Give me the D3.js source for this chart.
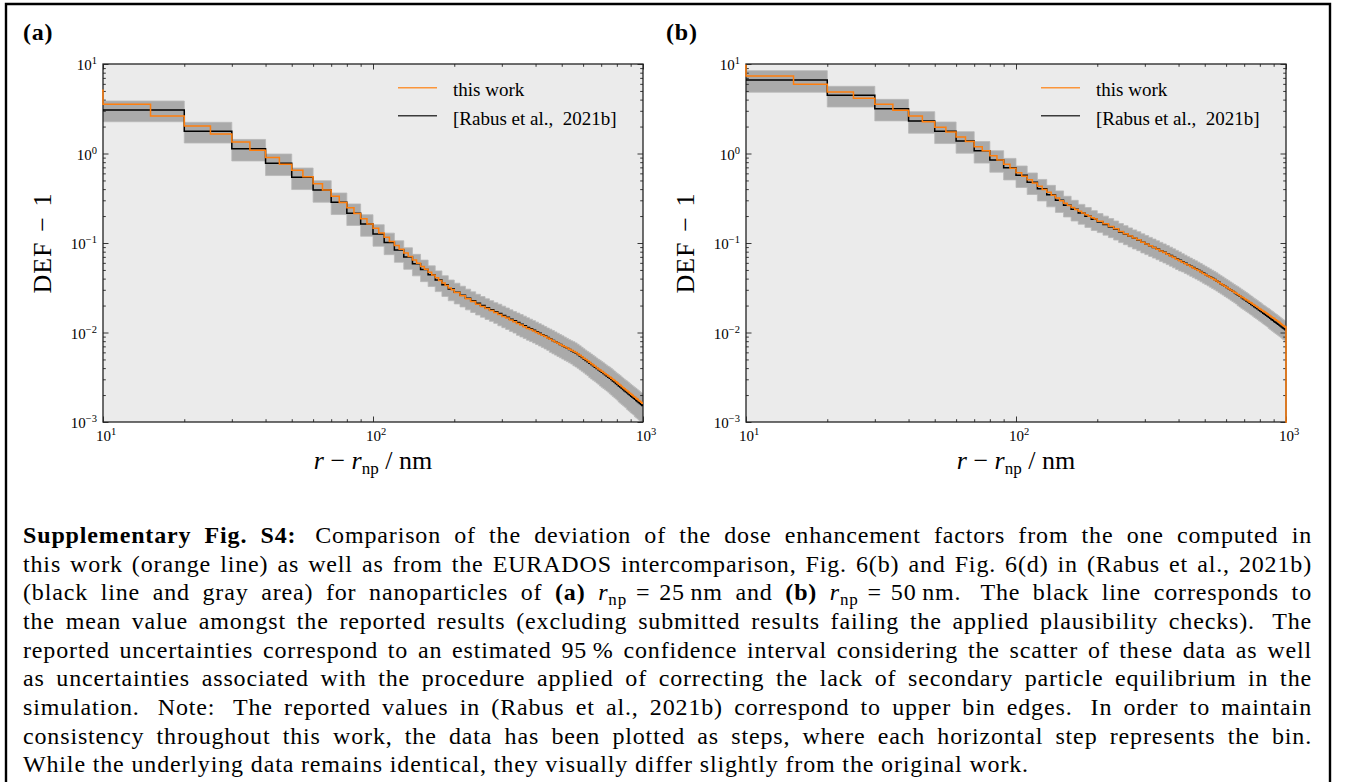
<!DOCTYPE html>
<html>
<head>
<meta charset="utf-8">
<script src="https://cdn.jsdelivr.net/npm/d3@7"></script>
<style>
  html, body { margin: 0; padding: 0; background: #fff; }
  svg { display: block; }
  text { font-family: "Liberation Serif", "Times New Roman", serif; fill: #000; }
</style>
</head>
<body>
<svg id="fig" width="1345" height="782"></svg>
<script>
// ---------------- data ----------------
// r - r_np axis range (nm) and DEF - 1 axis range
const xDomain = [10, 1000];
const yDomain = [1e-3, 10];
const xMajorTicks = [10, 100, 1000];
const yMajorTicks = [1e-3, 1e-2, 1e-1, 1, 10];
const minorMultipliers = [2, 3, 4, 5, 6, 7, 8, 9];

// EURADOS intercomparison (Rabus et al., 2021b): 10 nm bins from 10 nm to 1000 nm
const rabusBinStart = 10;
const rabusBinWidth = 10;

// this work: 5 nm bins from 5 nm to 200 nm, then 10 nm bins
const workFineStart = 5;
const workFineWidth = 5;
const workFineCount = 39;
const workCoarseWidth = 10;

// (a) r_np = 25 nm — mean of reported results
const rabusA = [
  3.06, 1.77, 1.13, 0.777, 0.542, 0.391, 0.285, 0.215, 0.163, 0.126,
  0.1015, 0.0834, 0.0696, 0.0588, 0.0507, 0.0441, 0.0387, 0.0342, 0.0306, 0.0282,
  0.0261, 0.0242, 0.0226, 0.0212, 0.0200, 0.0189, 0.0180, 0.0171, 0.0163, 0.0155,
  0.0148, 0.0141, 0.0135, 0.0129, 0.0124, 0.0119, 0.0114, 0.0110, 0.0106, 0.0102,
  0.00981, 0.00946, 0.00911, 0.00877, 0.00845, 0.00815, 0.00787, 0.00760, 0.00735, 0.00711,
  0.00688, 0.00666, 0.00645, 0.00626, 0.00607, 0.00589, 0.00568, 0.00546, 0.00526, 0.00506,
  0.00488, 0.00471, 0.00454, 0.00438, 0.00424, 0.00410, 0.00396, 0.00383, 0.00371, 0.00359,
  0.00348, 0.00337, 0.00327, 0.00317, 0.00308, 0.00298, 0.00288, 0.00279, 0.00270, 0.00262,
  0.00253, 0.00246, 0.00238, 0.00231, 0.00224, 0.00218, 0.00212, 0.00206, 0.00200, 0.00194,
  0.00189, 0.00184, 0.00179, 0.00174, 0.00170, 0.00165, 0.00161, 0.00157, 0.00153
];
// (a) 95 % interval half-width, percent of the mean
const uncA = [
  26, 26, 27, 27, 27, 27, 27, 27, 27, 27,
  27, 27, 27, 27, 27, 26, 26, 26, 26, 26,
  26, 26, 26, 26, 26, 26, 26, 26, 27, 27,
  27, 27, 27, 28, 28, 28, 28, 28, 28, 28,
  28, 28, 28, 28, 29, 29, 29, 29, 29, 29,
  29, 29, 29, 29, 30, 30, 30, 30, 30, 30,
  30, 30, 31, 31, 31, 31, 31, 31, 32, 32,
  32, 32, 32, 32, 33, 33, 33, 33, 33, 33,
  34, 34, 34, 34, 34, 34, 35, 35, 35, 35,
  35, 35, 36, 36, 36, 36, 36, 36, 36
];
// (a) this work
const thisWorkA = [
  5.1, 3.55, 2.62, 2.03, 1.65, 1.34, 1.09, 0.90, 0.757, 0.649,
  0.55, 0.460, 0.392, 0.334, 0.284, 0.247, 0.214, 0.187, 0.163, 0.146,
  0.129, 0.116, 0.104, 0.0937, 0.0849, 0.0772, 0.0705, 0.0645, 0.0593, 0.0548,
  0.0508, 0.0471, 0.0439, 0.0409, 0.0382, 0.0357, 0.0335, 0.0315, 0.0300,
  0.0280, 0.0258, 0.0238, 0.0222, 0.0207, 0.0195, 0.0185, 0.0176, 0.0167, 0.0159,
  0.0151, 0.0145, 0.0138, 0.0132, 0.0126, 0.0121, 0.0116, 0.0111, 0.0108, 0.0104,
  0.0100, 0.00965, 0.00933, 0.00901, 0.00869, 0.00839, 0.00811, 0.00785, 0.00760, 0.00735,
  0.00713, 0.00691, 0.00671, 0.00651, 0.00633, 0.00615, 0.00597, 0.00577, 0.00556, 0.00536,
  0.00517, 0.00499, 0.00482, 0.00465, 0.00448, 0.00434, 0.00420, 0.00405, 0.00392, 0.00380,
  0.00368, 0.00358, 0.00346, 0.00337, 0.00327, 0.00318, 0.00308, 0.00299, 0.00290, 0.00281,
  0.00273, 0.00264, 0.00257, 0.00249, 0.00242, 0.00235, 0.00228, 0.00222, 0.00216, 0.00210,
  0.00204, 0.00199, 0.00193, 0.00189, 0.00183, 0.00180, 0.00174, 0.00171, 0.00166, 0.00162
];

// (b) r_np = 50 nm — mean of reported results
const rabusB = [
  6.63, 4.47, 3.17, 2.31, 1.77, 1.38, 1.07, 0.846, 0.694, 0.571,
  0.477, 0.404, 0.347, 0.301, 0.264, 0.238, 0.216, 0.199, 0.184, 0.172,
  0.161, 0.151, 0.142, 0.133, 0.126, 0.119, 0.113, 0.108, 0.102, 0.0976,
  0.0932, 0.0892, 0.0855, 0.0819, 0.0787, 0.0755, 0.0724, 0.0694, 0.0667, 0.0641,
  0.0617, 0.0594, 0.0572, 0.0551, 0.0532, 0.0514, 0.0497, 0.0479, 0.0462, 0.0446,
  0.0431, 0.0417, 0.0403, 0.0390, 0.0377, 0.0364, 0.0351, 0.0340, 0.0328, 0.0318,
  0.0308, 0.0298, 0.0289, 0.0279, 0.0271, 0.0262, 0.0254, 0.0246, 0.0239, 0.0232,
  0.0225, 0.0219, 0.0212, 0.0206, 0.0200, 0.0194, 0.0189, 0.0184, 0.0178, 0.0174,
  0.0169, 0.0164, 0.0160, 0.0156, 0.0152, 0.0148, 0.0144, 0.0140, 0.0137, 0.0133,
  0.0130, 0.0127, 0.0124, 0.0121, 0.0118, 0.0115, 0.0112, 0.0110, 0.0107
];
// (b) 95 % interval half-width, percent of the mean
const uncB = [
  27, 26, 27, 27, 27, 27, 27, 27, 27, 27,
  27, 27, 27, 27, 26, 26, 25, 25, 25, 24,
  24, 24, 24, 24, 24, 24, 24, 24, 24, 24,
  24, 24, 24, 24, 24, 24, 24, 24, 24, 24,
  23, 23, 23, 23, 23, 23, 23, 23, 23, 23,
  23, 23, 23, 23, 23, 23, 23, 23, 23, 23,
  23, 23, 23, 23, 23, 24, 24, 24, 24, 24,
  24, 24, 24, 24, 24, 24, 24, 24, 24, 24,
  24, 24, 24, 24, 24, 25, 25, 25, 25, 25,
  25, 25, 25, 25, 25, 25, 25, 25, 25
];
// (b) this work (last bin beyond 1000 nm is empty)
const thisWorkB = [
  9.6, 7.34, 5.93, 4.86, 4.14, 3.55, 3.04, 2.62, 2.27, 1.96,
  1.74, 1.53, 1.36, 1.19, 1.07, 0.946, 0.846, 0.757, 0.683, 0.61,
  0.558, 0.509, 0.467, 0.430, 0.397, 0.368, 0.342, 0.318, 0.297, 0.278,
  0.263, 0.249, 0.237, 0.226, 0.216, 0.207, 0.1995, 0.192, 0.185,
  0.175, 0.164, 0.153, 0.144, 0.1345, 0.127, 0.120, 0.1136, 0.1084, 0.1022,
  0.0976, 0.0931, 0.0890, 0.0852, 0.0814, 0.0782, 0.0749, 0.0718, 0.0687, 0.0660,
  0.0634, 0.0610, 0.0587, 0.0566, 0.0545, 0.0526, 0.0508, 0.0492, 0.0474, 0.0457,
  0.0441, 0.0427, 0.0413, 0.0400, 0.0388, 0.0375, 0.0363, 0.0350, 0.0339, 0.0328,
  0.0318, 0.0309, 0.0299, 0.0291, 0.0282, 0.0274, 0.0266, 0.0258, 0.0250, 0.0244,
  0.0237, 0.0231, 0.0225, 0.0218, 0.0213, 0.0207, 0.0201, 0.0197, 0.0192, 0.0186,
  0.0182, 0.0177, 0.0173, 0.0169, 0.0165, 0.0161, 0.0157, 0.0153, 0.0149, 0.0146,
  0.0143, 0.0139, 0.0136, 0.0133, 0.0130, 0.0126, 0.0123, 0.0120, 0.0118, 0.0115,
  0
];

const panelTags = ["(a)", "(b)"];
const legendLabels = ["this work", "[Rabus et al.,\u00a0 2021b]"];
const yAxisTitle = "DEF\u2004\u2212\u20041";

const captionLines = [
  "**Supplementary Fig. S4:**\u2009 Comparison of the deviation of the dose enhancement factors from the one computed in",
  "this work (orange line) as well as from the EURADOS intercomparison, Fig. 6(b) and Fig. 6(d) in (Rabus et al., 2021b)",
  "(black line and gray area) for nanoparticles of **(a)** $rnp$\u2004=\u200425\u2009nm and **(b)** $rnp$\u2004=\u200450\u2009nm.\u2005 The black line corresponds to",
  "the mean value amongst the reported results (excluding submitted results failing the applied plausibility checks).\u2005 The",
  "reported uncertainties correspond to an estimated 95\u2009% confidence interval considering the scatter of these data as well",
  "as uncertainties associated with the procedure applied of correcting the lack of secondary particle equilibrium in the",
  "simulation.\u2005 Note:\u2005 The reported values in (Rabus et al., 2021b) correspond to upper bin edges.\u2005 In order to maintain",
  "consistency throughout this work, the data has been plotted as steps, where each horizontal step represents the bin.",
  "While the underlying data remains identical, they visually differ slightly from the original work."
];

// ---------------- drawing ----------------
const W = 1345, H = 782;
const svg = d3.select("#fig");
const defs = svg.append("defs");

svg.append("rect").attr("width", W).attr("height", H).attr("fill", "#fff");

// page frame
svg.append("path")
  .attr("d", `M6,${H + 5} V4 H1330 V${H + 5}`)
  .attr("fill", "none").attr("stroke", "#000").attr("stroke-width", 2.4);

const plotTop = 64, plotW = 540, plotH = 358;
const colWork = "#ff7f0e", colRabus = "#000000", colBand = "#aaaaaa", colBg = "#ebebeb";

function rabusEdges(n) {
  return d3.range(n + 1).map(k => rabusBinStart + rabusBinWidth * k);
}
function workEdges(n) {
  return d3.range(n + 1).map(k => k <= workFineCount
    ? workFineStart + workFineWidth * k
    : workFineStart + workFineWidth * workFineCount + workCoarseWidth * (k - workFineCount));
}
function stepPoints(values, edges) {
  const pts = values.map((v, k) => [edges[k], v]);
  pts.push([edges[values.length], values[values.length - 1]]);
  return pts;
}
function powLabel(sel, v) {
  const e = Math.round(Math.log10(v));
  sel.append("tspan").text("10");
  sel.append("tspan").attr("font-size", 10.5).attr("dy", -6)
    .text(e < 0 ? "\u2212" + (-e) : String(e));
}

const panels = [
  { key: "a", left: 103, rabus: rabusA, unc: uncA, work: thisWorkA },
  { key: "b", left: 746, rabus: rabusB, unc: uncB, work: thisWorkB }
];

panels.forEach((p, i) => {
  const x = d3.scaleLog().domain(xDomain).range([0, plotW]);
  const y = d3.scaleLog().domain(yDomain).range([plotH, 0]).clamp(true);

  const g = svg.append("g").attr("transform", `translate(${p.left},${plotTop})`);
  g.append("rect").attr("width", plotW).attr("height", plotH).attr("fill", colBg);

  defs.append("clipPath").attr("id", "clipBand" + p.key)
    .append("rect").attr("width", plotW).attr("height", plotH);
  defs.append("clipPath").attr("id", "clipLine" + p.key)
    .append("rect").attr("x", -1).attr("y", -1).attr("width", plotW + 2).attr("height", plotH + 2);

  // uncertainty band
  const rE = rabusEdges(p.rabus.length);
  const bandPts = p.rabus.map((v, k) => ({ e: rE[k], lo: v * (1 - p.unc[k] / 100), hi: v * (1 + p.unc[k] / 100) }));
  bandPts.push({ e: rE[p.rabus.length], lo: bandPts[bandPts.length - 1].lo, hi: bandPts[bandPts.length - 1].hi });
  g.append("path")
    .attr("clip-path", `url(#clipBand${p.key})`)
    .attr("d", d3.area().x(d => x(d.e)).y0(d => y(d.lo)).y1(d => y(d.hi)).curve(d3.curveStepAfter)(bandPts))
    .attr("fill", colBand).attr("stroke", "#b8b8b8").attr("stroke-width", 0.8);

  // ticks, inward on all four sides
  const xMinor = xMajorTicks.flatMap(t => minorMultipliers.map(m => m * t)).filter(t => t < xDomain[1]);
  const yMinor = yMajorTicks.flatMap(t => minorMultipliers.map(m => m * t)).filter(t => t < yDomain[1]);
  const tickSets = [
    [d3.axisBottom(x), `translate(0,${plotH})`, xMajorTicks, xMinor],
    [d3.axisTop(x), "translate(0,0)", xMajorTicks, xMinor],
    [d3.axisLeft(y), "translate(0,0)", yMajorTicks, yMinor],
    [d3.axisRight(y), `translate(${plotW},0)`, yMajorTicks, yMinor]
  ];
  tickSets.forEach(([axis, tr, maj, min]) => {
    [[maj, 5.5], [min, 2.8]].forEach(([vals, len]) => {
      const ax = g.append("g").attr("transform", tr)
        .call(axis.tickValues(vals).tickSize(-len).tickSizeOuter(0).tickFormat(""));
      ax.select(".domain").remove();
      ax.selectAll("line").attr("stroke", "#222").attr("stroke-width", 0.9);
    });
  });

  // spines
  g.append("rect").attr("width", plotW).attr("height", plotH)
    .attr("fill", "none").attr("stroke", "#222").attr("stroke-width", 1.3);

  // step lines
  const stepLine = d3.line().x(d => x(d[0])).y(d => y(d[1])).curve(d3.curveStepAfter);
  g.append("path")
    .attr("clip-path", `url(#clipLine${p.key})`)
    .attr("d", stepLine(stepPoints(p.rabus, rE)))
    .attr("fill", "none").attr("stroke", colRabus).attr("stroke-width", 1.5);
  g.append("path")
    .attr("clip-path", `url(#clipLine${p.key})`)
    .attr("d", stepLine(stepPoints(p.work, workEdges(p.work.length))))
    .attr("fill", "none").attr("stroke", colWork).attr("stroke-width", 1.5);

  // tick labels
  yMajorTicks.forEach(v => {
    const t = g.append("text").attr("x", -6).attr("y", y(v) + 6)
      .attr("text-anchor", "end").attr("font-size", 15);
    powLabel(t, v);
  });
  xMajorTicks.forEach(v => {
    const t = g.append("text").attr("x", x(v) + 3).attr("y", plotH + 19)
      .attr("text-anchor", "middle").attr("font-size", 15);
    powLabel(t, v);
  });

  // axis titles
  g.append("text")
    .attr("transform", `translate(-52,${plotH / 2}) rotate(-90)`)
    .attr("text-anchor", "middle").attr("font-size", 26)
    .style("letter-spacing", "1px")
    .text(yAxisTitle);

  const xt = g.append("text").attr("x", plotW / 2).attr("y", plotH + 47)
    .attr("text-anchor", "middle").attr("font-size", 26);
  xt.append("tspan").attr("font-style", "italic").text("r");
  xt.append("tspan").text("\u2005\u2212\u2005");
  xt.append("tspan").attr("font-style", "italic").text("r");
  xt.append("tspan").attr("font-size", 17).attr("dy", 5).text("np");
  xt.append("tspan").attr("dy", -5).text("\u2005/\u2005nm");

  // legend
  const lg = g.append("g").attr("transform", "translate(295,0)");
  [[colWork, legendLabels[0], 23.7, 31.5], [colRabus, legendLabels[1], 51.7, 60.5]].forEach(([c, lab, ly, ty]) => {
    lg.append("line").attr("x1", 0).attr("x2", 39).attr("y1", ly).attr("y2", ly)
      .attr("stroke", c).attr("stroke-width", 1.6).attr("stroke-opacity", c === colRabus ? 0.75 : 0.8);
    lg.append("text").attr("x", 55).attr("y", ty).attr("font-size", 19).text(lab);
  });

  // panel tag
  svg.append("text").attr("x", p.left - 80).attr("y", 40)
    .attr("font-size", 24).attr("font-weight", "bold")
    .style("letter-spacing", "0.8px").text(panelTags[i]);
});

// ---------------- caption ----------------
const capX = 23, capRight = 1312, capY0 = 543, capDy = 28.65, capSize = 24;
captionLines.forEach((line, li) => {
  const t = svg.append("text")
    .attr("x", capX).attr("y", capY0 + li * capDy)
    .attr("font-size", capSize)
    .style("letter-spacing", "0.85px")
    .style("white-space", "pre");
  const parts = line.split(/(\*\*[^*]+\*\*|\$rnp\$)/).filter(s => s.length);
  let pendingDy = 0;
  parts.forEach(s => {
    if (s.startsWith("**")) {
      t.append("tspan").attr("font-weight", "bold").attr("dy", pendingDy).text(s.slice(2, -2));
      pendingDy = 0;
    } else if (s === "$rnp$") {
      t.append("tspan").attr("font-style", "italic").attr("dy", pendingDy).text("r");
      t.append("tspan").attr("font-size", 17).attr("dy", 4.5).text("np");
      pendingDy = -4.5;
    } else {
      t.append("tspan").attr("dy", pendingDy).text(s);
      pendingDy = 0;
    }
  });
  if (li < captionLines.length - 1) {
    const node = t.node();
    const natural = node.getComputedTextLength();
    const nSpaces = (node.textContent.match(/ /g) || []).length;
    const extra = (capRight - capX - natural) / nSpaces;
    t.style("word-spacing", extra + "px");
    const after = node.getComputedTextLength();
    if (Math.abs(after - natural) < 1) {
      t.attr("textLength", capRight - capX).attr("lengthAdjust", "spacing");
    }
  }
});
</script>
</body>
</html>
